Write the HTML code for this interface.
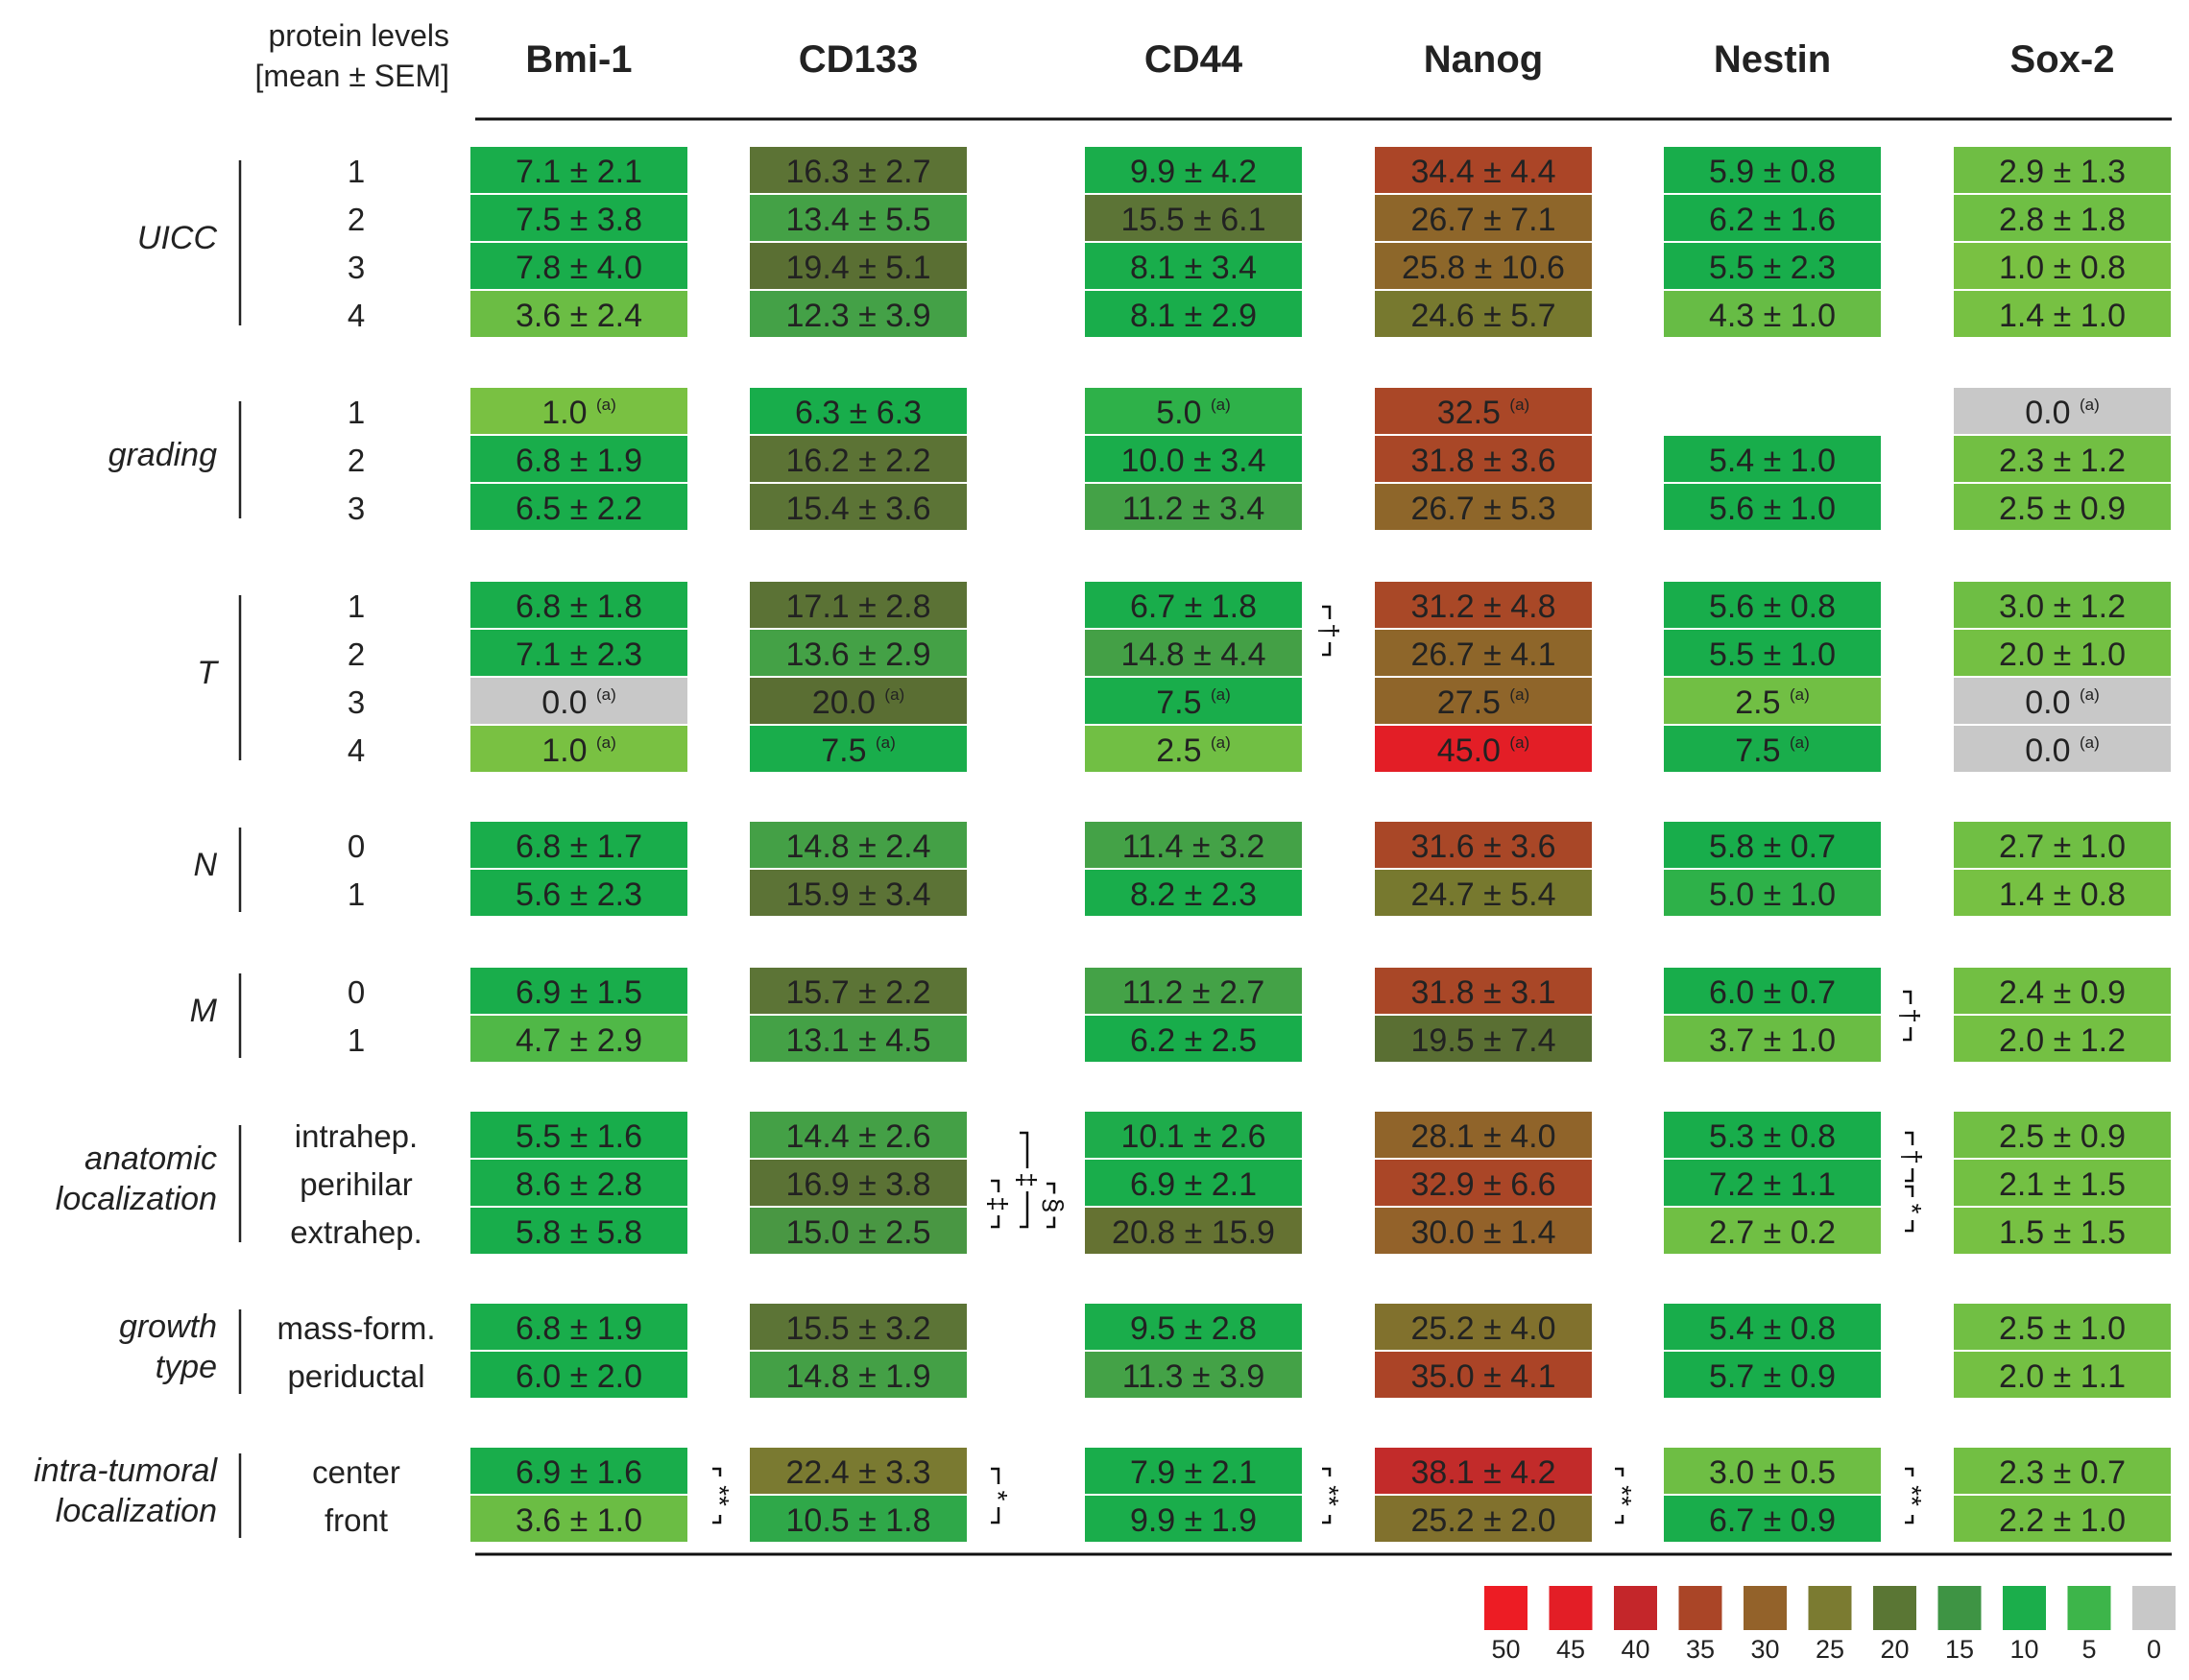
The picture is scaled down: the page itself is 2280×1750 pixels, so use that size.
<!DOCTYPE html>
<html><head><meta charset="utf-8">
<style>
html,body{margin:0;padding:0;background:#fff;}
svg{display:block;font-family:"Liberation Sans",Arial,sans-serif;}
</style></head>
<body>
<svg id="chart" width="2280" height="1750" viewBox="0 0 2280 1750" xmlns="http://www.w3.org/2000/svg">
<g>
<text x="468" y="48" font-size="32" text-anchor="end" fill="#222">protein levels</text>
<text x="468" y="90" font-size="32" text-anchor="end" fill="#222">[mean ± SEM]</text>
<line x1="495" y1="124" x2="2262" y2="124" stroke="#111" stroke-width="3"/>
<line x1="495" y1="1619" x2="2262" y2="1619" stroke="#111" stroke-width="3"/>
</g>
<g id="cells"></g>
<g id="labels"></g>
<g id="sig"></g>
<g id="legend"></g>
</svg>
<script>
const markers = ["Bmi-1","CD133","CD44","Nanog","Nestin","Sox-2"];
const groups = ["UICC","grading","T","N","M","anatomic localization","growth type","intra-tumoral localization"];
const groupTops = [153,404,606,856,1008,1158,1358,1508];
const subLabels = [["1","2","3","4"],["1","2","3"],["1","2","3","4"],["0","1"],["0","1"],["intrahep.","perihilar","extrahep."],["mass-form.","periductal"],["center","front"]];
// means per group row: [Bmi-1, CD133, CD44, Nanog, Nestin, Sox-2]
const means = [
 [[7.1,16.3,9.9,34.4,5.9,2.9],[7.5,13.4,15.5,26.7,6.2,2.8],[7.8,19.4,8.1,25.8,5.5,1.0],[3.6,12.3,8.1,24.6,4.3,1.4]],
 [[1.0,6.3,5.0,32.5,null,0.0],[6.8,16.2,10.0,31.8,5.4,2.3],[6.5,15.4,11.2,26.7,5.6,2.5]],
 [[6.8,17.1,6.7,31.2,5.6,3.0],[7.1,13.6,14.8,26.7,5.5,2.0],[0.0,20.0,7.5,27.5,2.5,0.0],[1.0,7.5,2.5,45.0,7.5,0.0]],
 [[6.8,14.8,11.4,31.6,5.8,2.7],[5.6,15.9,8.2,24.7,5.0,1.4]],
 [[6.9,15.7,11.2,31.8,6.0,2.4],[4.7,13.1,6.2,19.5,3.7,2.0]],
 [[5.5,14.4,10.1,28.1,5.3,2.5],[8.6,16.9,6.9,32.9,7.2,2.1],[5.8,15.0,20.8,30.0,2.7,1.5]],
 [[6.8,15.5,9.5,25.2,5.4,2.5],[6.0,14.8,11.3,35.0,5.7,2.0]],
 [[6.9,22.4,7.9,38.1,3.0,2.3],[3.6,10.5,9.9,25.2,6.7,2.2]]
];
// SEM values; null = single case "(a)"
const sems = [
 [[2.1,2.7,4.2,4.4,0.8,1.3],[3.8,5.5,6.1,7.1,1.6,1.8],[4.0,5.1,3.4,10.6,2.3,0.8],[2.4,3.9,2.9,5.7,1.0,1.0]],
 [[null,6.3,null,null,null,null],[1.9,2.2,3.4,3.6,1.0,1.2],[2.2,3.6,3.4,5.3,1.0,0.9]],
 [[1.8,2.8,1.8,4.8,0.8,1.2],[2.3,2.9,4.4,4.1,1.0,1.0],[null,null,null,null,null,null],[null,null,null,null,null,null]],
 [[1.7,2.4,3.2,3.6,0.7,1.0],[2.3,3.4,2.3,5.4,1.0,0.8]],
 [[1.5,2.2,2.7,3.1,0.7,0.9],[2.9,4.5,2.5,7.4,1.0,1.2]],
 [[1.6,2.6,2.6,4.0,0.8,0.9],[2.8,3.8,2.1,6.6,1.1,1.5],[5.8,2.5,15.9,1.4,0.2,1.5]],
 [[1.9,3.2,2.8,4.0,0.8,1.0],[2.0,1.9,3.9,4.1,0.9,1.1]],
 [[1.6,3.3,2.1,4.2,0.5,0.7],[1.0,1.8,1.9,2.0,0.9,1.0]]
];
const legendValues = [50,45,40,35,30,25,20,15,10,5,0];
const legendColors = ["#ed1c24","#e31e26","#c4262a","#aa4527","#93622a","#7b7b31","#5a7634","#3e9444","#1bae4b","#3db54a","#c8c8c8"];

const colX = [490,781,1130,1432,1733,2035];
const cellW = 226, rowH = 50;
const NS = "http://www.w3.org/2000/svg";
function mk(tag, attrs, parent){const e=document.createElementNS(NS,tag);for(const k in attrs)e.setAttribute(k,attrs[k]);parent.appendChild(e);return e;}
const stops=[[0.5,"#7cc242"],[4.5,"#66bc45"],[5.2,"#18ad4b"],[10,"#1aad4b"],[11,"#44a247"],[14.9,"#44a046"],[15.4,"#5c7436"],[20,"#5a6e33"],[22.5,"#7b7b31"],[24.7,"#77792f"],[25.8,"#8d672a"],[30,"#93622a"],[31,"#a94827"],[35,"#ab4427"],[38,"#c22b2a"],[45,"#e31e26"],[50,"#ed1c24"]];
function hex(c){return [1,3,5].map(i=>parseInt(c.substr(i,2),16));}
function colorFor(v){
  if(v===0) return "#c8c8c8";
  if(v<=stops[0][0]) return stops[0][1];
  for(let i=1;i<stops.length;i++){
    if(v<=stops[i][0]){const a=hex(stops[i-1][1]),b=hex(stops[i][1]);const t=(v-stops[i-1][0])/(stops[i][0]-stops[i-1][0]);
      return "rgb("+a.map((x,j)=>Math.round(x+(b[j]-x)*t)).join(",")+")";}
  }
  return stops[stops.length-1][1];
}
const cells=document.getElementById("cells"), labels=document.getElementById("labels");
markers.forEach((m,i)=>{
  const t=mk("text",{x:colX[i]+cellW/2,y:75,"font-size":40,"font-weight":"bold","text-anchor":"middle",fill:"#222"},labels);
  
  
  t.textContent=m;
});
groups.forEach((g,gi)=>{
  const top=groupTops[gi], n=subLabels[gi].length, mid=top+n*rowH/2;
  const words = g==="anatomic localization"?["anatomic","localization"]:g==="growth type"?["growth","type"]:g==="intra-tumoral localization"?["intra-tumoral","localization"]:[g];
  words.forEach((w,wi)=>{
    const t=mk("text",{x:226,y:mid+6+(wi-(words.length-1)/2)*42,"font-size":34,"font-style":"italic","text-anchor":"end",fill:"#222"},labels);
    
    
    t.textContent=w;
  });
  const ln=mk("line",{x1:250,x2:250,y1:top+(n>2?14:6),y2:top+n*rowH-(n>2?14:6),stroke:"#222","stroke-width":2.5},labels);
  
  
  subLabels[gi].forEach((s,ri)=>{
    const y=top+ri*rowH;
    const t=mk("text",{x:371,y:y+rowH/2+12,"font-size":33,"text-anchor":"middle",fill:"#222"},labels);
    
    
    t.textContent=s;
    means[gi][ri].forEach((v,ci)=>{
      if(v===null) return;
      const r=mk("rect",{x:colX[ci],y:y,width:cellW,height:rowH-2,fill:colorFor(v)},cells);
      
      
      const sem=sems[gi][ri][ci];
      const tx=mk("text",{x:colX[ci]+cellW/2,y:y+rowH/2+12,"font-size":34,"text-anchor":"middle",fill:"#222"},cells);
      
      
      if(sem===null){
        tx.textContent=v.toFixed(1)+" ";
        const sp=mk("tspan",{"font-size":17,dy:-14},tx);sp.textContent="(a)";
      } else tx.textContent=v.toFixed(1)+" ± "+sem.toFixed(1);
    });
  });
});
const sigGroup=document.getElementById("sig");
function bracket(x,y1,y2,sym){
  const g=mk("g",{},sigGroup);
  
  
  const mid=(y1+y2)/2;
  let half=sym.length*8+4;
  const maxHalf=(y2-y1)/2-8;
  if(half>maxHalf) half=maxHalf;
  const d="M"+(x-8)+" "+y1+"H"+x+"V"+(mid-half)+"M"+x+" "+(mid+half)+"V"+y2+"H"+(x-8);
  mk("path",{d:d,fill:"none",stroke:"#111","stroke-width":2.5},g);
  const t=mk("text",{x:0,y:0,"font-size":28,"text-anchor":"middle",fill:"#111",transform:"translate("+(x-10)+","+mid+") rotate(90)"},g);
  t.textContent=sym;
}
bracket(1385,632,682,"†");
bracket(1990,1033,1083,"†");
bracket(1992,1180,1230,"†");
bracket(1992,1236,1282,"*");
bracket(1040,1230,1278,"‡");
bracket(1070,1180,1278,"‡");
bracket(1098,1233,1278,"§");
bracket(750,1530,1586,"**");
bracket(1040,1530,1586,"*");
bracket(1385,1530,1586,"**");
bracket(1690,1530,1586,"**");
bracket(1992,1530,1586,"**");
const lg=document.getElementById("legend");
legendValues.forEach((v,i)=>{
  const x=1546+i*67.5;
  const r=mk("rect",{x:x,y:1652,width:45,height:46,fill:legendColors[i]},lg);
  
  
  const t=mk("text",{x:x+22.5,y:1727,"font-size":27,"text-anchor":"middle",fill:"#222"},lg);
  
  
  t.textContent=v;
});
</script>
</body></html>
